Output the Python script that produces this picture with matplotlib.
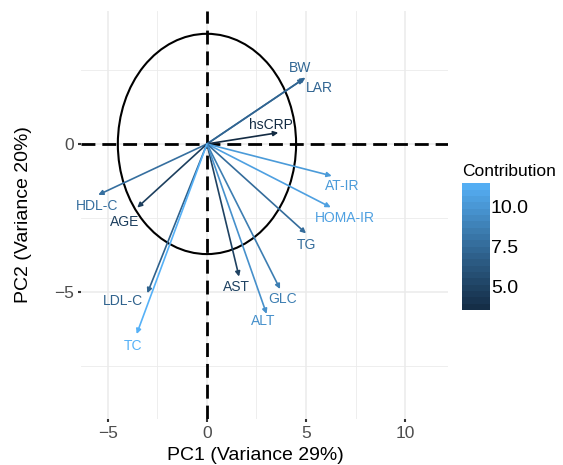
import matplotlib
matplotlib.use("Agg")
import matplotlib.pyplot as plt
import numpy as np
from matplotlib.colors import LinearSegmentedColormap, Normalize
from matplotlib.patches import Ellipse
from matplotlib.cm import ScalarMappable

plt.rcParams['font.family'] = ['Liberation Sans', 'DejaVu Sans']
plt.rcParams['axes.unicode_minus'] = True

# ---- data ----
variables = ["BW", "LAR", "hsCRP", "AT-IR", "HOMA-IR", "HDL-C", "AGE", "TG",
             "AST", "GLC", "ALT", "LDL-C", "TC"]
pc1 = [4.97, 4.88, 3.60, 6.30, 6.25, -5.49, -3.52, 5.00, 1.62, 3.69, 3.01, -3.01, -3.55]
pc2 = [2.24, 2.20, 0.38, -1.08, -2.14, -1.72, -2.15, -3.02, -4.48, -4.90, -5.74, -5.04, -6.42]
contrib = [7.3, 7.2, 3.55, 10.2, 10.5, 7.8, 4.8, 7.6, 5.0, 8.6, 9.6, 7.0, 11.45]
xlabel_text = "PC1 (Variance 29%)"
ylabel_text = "PC2 (Variance 20%)"
legend_title = "Contribution"
xticks = [-5, 0, 5, 10]
yticks = [-5, 0]
colorbar_ticks = [5.0, 7.5, 10.0]

# label offsets in pixels (dx, dy) from arrow tip
label_offsets = {
    "BW": (-5, 10), "LAR": (16, -9), "hsCRP": (-7, 8), "AT-IR": (10, -10),
    "HOMA-IR": (14, -11), "HDL-C": (-1, -11), "AGE": (-13, -14), "TG": (0, -12),
    "AST": (-3, -10), "GLC": (3, -10), "ALT": (-3, -7), "LDL-C": (-24, -8),
    "TC": (-4, -12),
}

W, H = 563, 465
fig = plt.figure(figsize=(W / 100, H / 100), dpi=100)
ax_l, ax_r, ax_t, ax_b = 81, 448, 11, 419
ax = fig.add_axes([ax_l / W, (H - ax_b) / H, (ax_r - ax_l) / W, (ax_b - ax_t) / H])

cmap = LinearSegmentedColormap.from_list("gg", ["#132B43", "#336A98", "#56B1F7"])
norm = Normalize(vmin=min(contrib), vmax=max(contrib))

ax.set_xlim(-6.36, 12.17)
ax.set_ylim(-9.29, 4.49)

# grid
ax.set_xticks(xticks)
ax.set_yticks(yticks)
ax.set_xticks([-2.5, 2.5, 7.5], minor=True)
ax.set_yticks([-7.5, -2.5, 2.5], minor=True)
ax.grid(True, which="major", color="#EBEBEB", lw=1.1)
ax.grid(True, which="minor", color="#EBEBEB", lw=0.6)
ax.set_axisbelow(True)
for s in ax.spines.values():
    s.set_visible(False)
ax.tick_params(which="major", length=2, width=1.5, color="#333333",
               labelsize=12.5, labelcolor="#4D4D4D", pad=3)
ax.tick_params(which="minor", length=0)

# circle (ellipse due to unequal scale)
ax.add_patch(Ellipse((0, 0), 9.0, 7.44, fill=False, ec="black", lw=1.5, zorder=2))

# dashed axes
ax.axhline(0, color="black", lw=2.0, ls=(0, (5, 2.5)), zorder=2)
ax.axvline(0, color="black", lw=2.0, ls=(0, (5, 2.5)), zorder=2)

# arrows
for v, x, y, c in zip(variables, pc1, pc2, contrib):
    col = cmap(norm(c))
    ax.annotate("", xy=(x, y), xytext=(0, 0),
                arrowprops=dict(arrowstyle="-|>", color=col, lw=1.2,
                                mutation_scale=7, shrinkA=0, shrinkB=0),
                zorder=3)
for v, x, y, c in zip(variables, pc1, pc2, contrib):
    col = cmap(norm(c))
    dx, dy = label_offsets[v]
    ax.annotate(v, xy=(x, y), xytext=(dx, dy), textcoords="offset pixels",
                ha="center", va="center", color=col, fontsize=10, zorder=4)

ax.set_xlabel(xlabel_text, fontsize=14, color="black", va="center")
ax.set_ylabel(ylabel_text, fontsize=14, color="black", va="center")
ax.xaxis.set_label_coords((255 - ax_l) / (ax_r - ax_l), (ax_b - 455) / (ax_b - ax_t))
ax.yaxis.set_label_coords((24 - ax_l) / (ax_r - ax_l), 0.5)

# colorbar
cax = fig.add_axes([462 / W, (H - 310) / H, 27.5 / W, 126.7 / H])
sm = ScalarMappable(norm=norm, cmap=cmap)
bounds = np.linspace(min(contrib), max(contrib), 21)
cb = fig.colorbar(sm, cax=cax, ticks=colorbar_ticks, boundaries=bounds)
cb.outline.set_visible(False)
cb.ax.tick_params(length=0, labelsize=14, pad=1)
cb.ax.set_yticklabels([f"{t:.1f}" for t in colorbar_ticks])
fig.text(462 / W, (H - 171) / H, legend_title, fontsize=12.5, ha="left", va="center")

fig.savefig("out.png", dpi=100)
